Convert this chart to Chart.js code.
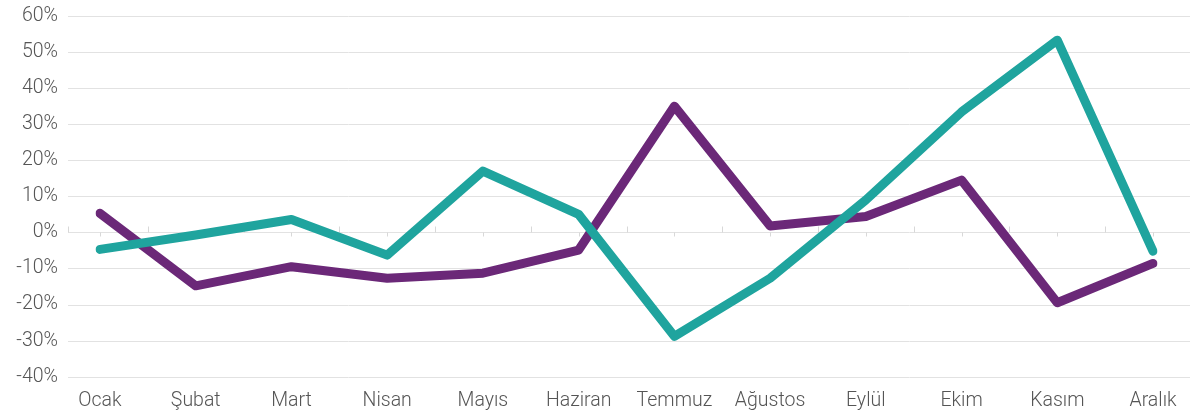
<!DOCTYPE html>
<html>
<head>
<meta charset="utf-8">
<script src="https://cdn.jsdelivr.net/npm/chart.js@4/dist/chart.umd.min.js"></script>
<style>
  html, body { margin: 0; padding: 0; background: #ffffff; overflow: hidden; }
  #wrap { width: 1190px; height: 416px; position: relative; }
</style>
</head>
<body>
<div id="wrap"><canvas id="c"></canvas></div>
<script>
const categories = ["Ocak", "Şubat", "Mart", "Nisan", "Mayıs", "Haziran", "Temmuz", "Ağustos", "Eylül", "Ekim", "Kasım", "Aralık"];
const tealSeries = [-4.7, -0.7, 3.6, -6.3, 17.0, 5.0, -28.8, -12.7, 9.0, 33.4, 53.3, -5.2];
const purpleSeries = [5.3, -14.8, -9.5, -12.7, -11.3, -4.9, 35.0, 1.8, 4.4, 14.5, -19.5, -8.6];
const yMin = -40, yMax = 60, yStep = 10;

const TEXT = "#555555";
const GRID = "#e2e2e2";
const FONT = { family: "Roboto, 'Liberation Sans', sans-serif", size: 19.5, weight: 300 };

const gridPlugin = {
  id: "customGrid",
  beforeDatasetsDraw(chart) {
    const ctx = chart.ctx;
    const y = chart.scales.y;
    const x = chart.scales.x;
    const left = 68, right = chart.width;
    ctx.save();
    ctx.lineWidth = 1;
    ctx.strokeStyle = GRID;
    y.ticks.forEach(t => {
      const py = Math.round(y.getPixelForValue(t.value)) + 0.5;
      ctx.beginPath();
      ctx.moveTo(left, py);
      ctx.lineTo(right, py);
      ctx.stroke();
    });
    const z = Math.round(y.getPixelForValue(0)) + 0.5;
    ctx.strokeStyle = "#d8d8d8";
    const step = x.getPixelForValue(1) - x.getPixelForValue(0);
    const marks = [left];
    for (let i = 0; i < categories.length; i++) {
      const px = x.getPixelForValue(i);
      ctx.beginPath();
      ctx.moveTo(Math.round(px) + 0.5, z);
      ctx.lineTo(Math.round(px) + 0.5, z + 4);
      ctx.stroke();
      if (i < categories.length - 1) marks.push(px + step / 2);
    }
    marks.forEach(px => {
      ctx.beginPath();
      ctx.moveTo(Math.round(px) + 0.5, z);
      ctx.lineTo(Math.round(px) + 0.5, z - 6);
      ctx.stroke();
    });
    ctx.restore();
  }
};

new Chart(document.getElementById("c"), {
  type: "line",
  data: {
    labels: categories,
    datasets: [
      {
        label: "Seri 1",
        data: tealSeries,
        borderColor: "#1fa49e",
        backgroundColor: "#1fa49e",
        borderWidth: 9,
        pointRadius: 0,
        tension: 0,
        borderCapStyle: "round",
        borderJoinStyle: "round"
      },
      {
        label: "Seri 2",
        data: purpleSeries,
        borderColor: "#6b2878",
        backgroundColor: "#6b2878",
        borderWidth: 9,
        pointRadius: 0,
        tension: 0,
        borderCapStyle: "round",
        borderJoinStyle: "round"
      }
    ]
  },
  options: {
    responsive: true,
    maintainAspectRatio: false,
    animation: false,
    layout: { padding: { top: 16, right: 37, bottom: 0, left: 0 } },
    plugins: {
      legend: { display: false },
      tooltip: { enabled: false }
    },
    scales: {
      x: {
        type: "category",
        offset: false,
        grid: { display: false, drawTicks: false },
        border: { display: false },
        ticks: { color: TEXT, font: FONT, padding: 13, maxRotation: 0, autoSkip: false },
        afterFit(s) { s.height = 39.3; s.paddingLeft = 0; s.paddingRight = 0; }
      },
      y: {
        min: yMin,
        max: yMax,
        grid: { display: false, drawTicks: false },
        border: { display: false },
        ticks: {
          stepSize: yStep,
          color: TEXT,
          font: FONT,
          padding: 42,
          callback: v => v + "%"
        },
        afterFit(s) { s.width = 100; s.paddingTop = 0; s.paddingBottom = 0; }
      }
    }
  },
  plugins: [gridPlugin]
});
</script>
</body>
</html>
